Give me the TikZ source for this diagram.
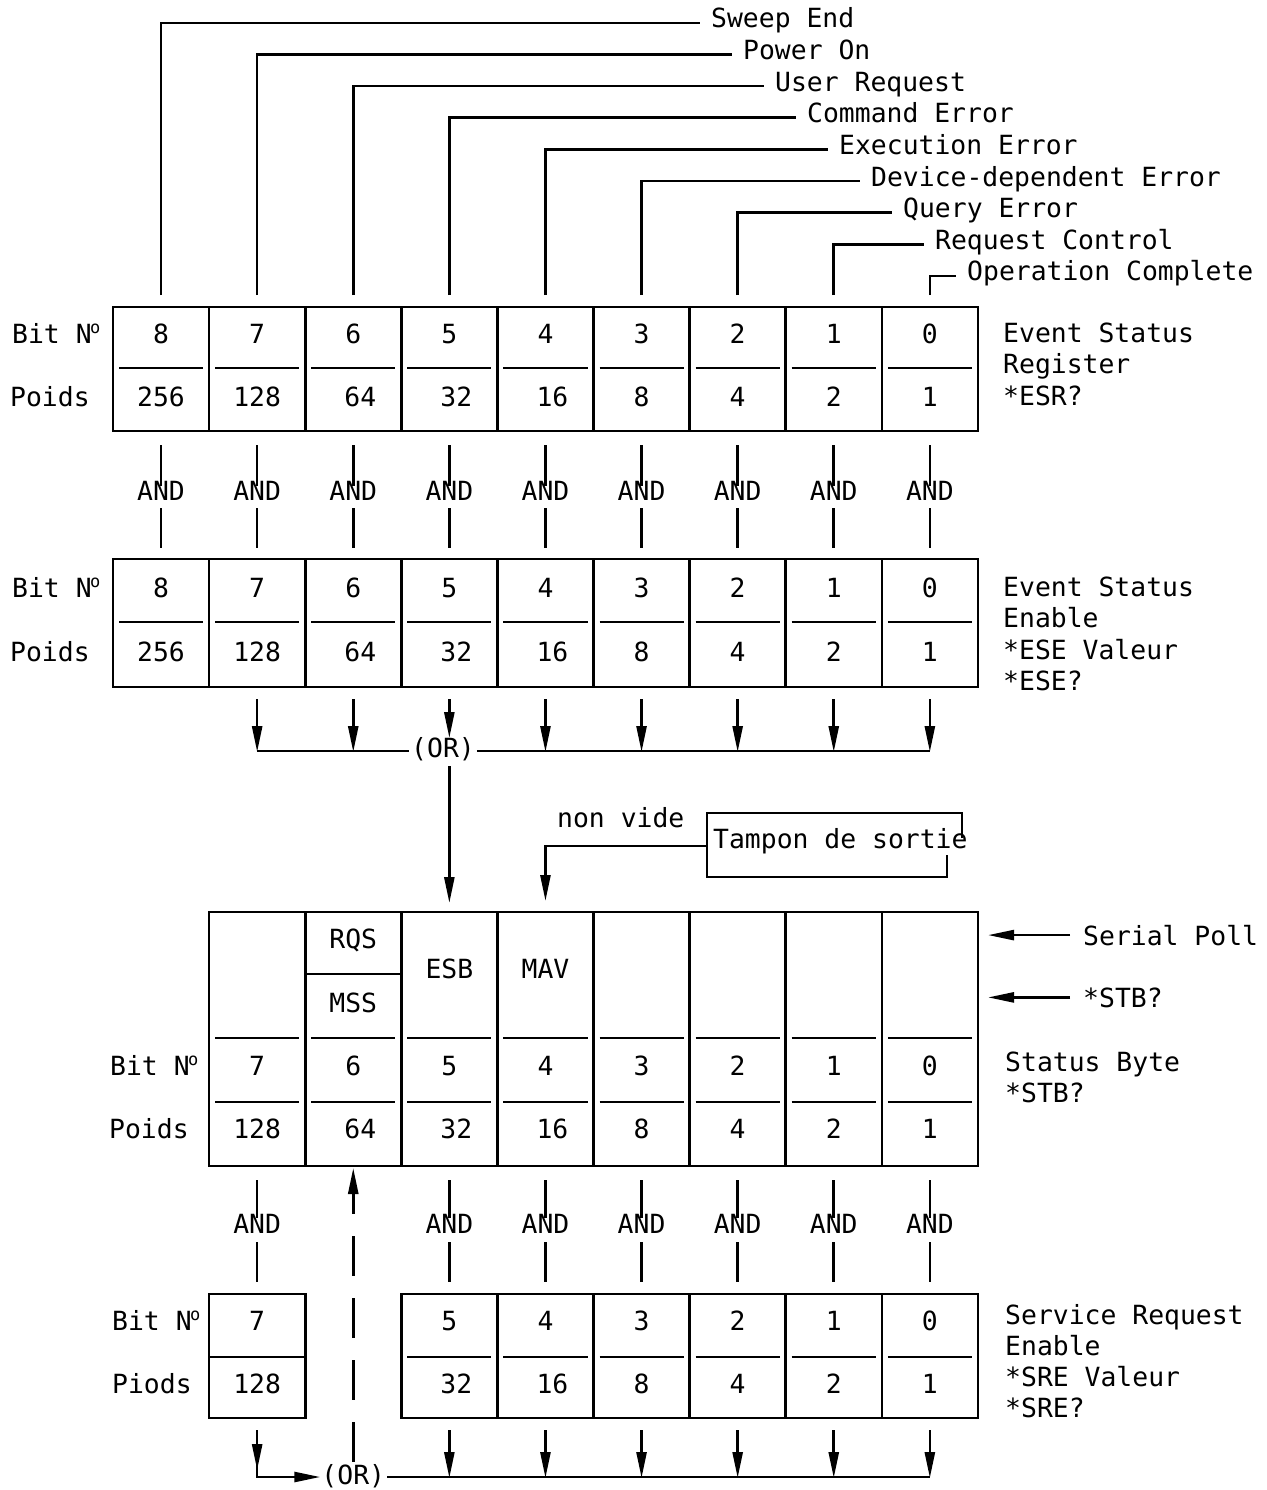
\documentclass[tikz,border=0pt]{standalone}
\usepackage{fontspec}
\setmainfont{DejaVu Sans Mono}
\usetikzlibrary{arrows.meta}
\newcommand{\regfont}{\fontsize{26.4}{31.5}\selectfont}
\newcommand{\numero}{N\kern-1.5pt\raisebox{9.5pt}{\fontsize{17}{17}\selectfont o}}
% centre of the column that holds bit #1 (same grid for every register)
\newcommand{\colx}[1]{113+96.1*(8.5-#1)}
\tikzset{
  rule/.style={line width=2.6pt},
  flow/.style={line width=2.6pt, -{Triangle[length=26pt,width=10pt]}},
  txt/.style={inner sep=0pt, anchor=base},
  lbl/.style={inner sep=0pt, anchor=base west},
}

\begin{document}
\begin{tikzpicture}[x=1pt, y=-1pt, font=\regfont]
\path[use as bounding box, fill=white] (0,0) rectangle (1266,1490);
% event names, one level per bit
\foreach \b/\t [count=\k from 0] in {8/Sweep End, 7/Power On, 6/User Request, 5/Command Error, 4/Execution Error, 3/Device-dependent Error, 2/Query Error, 1/Request Control, 0/Operation Complete} {
  \node[lbl] (ev\b) at ({711+32*\k},{28+31.6*\k}) {\t};
  \draw[rule] ({\colx{\b}},295) |- ([xshift=-11pt,yshift=5pt]ev\b.base west);
}
% Event Status Register
\draw[rule] (113,307) rectangle (978,431);
\foreach \k in {1,...,8}
  \draw[rule] ({113+96.1*\k},307) -- ({113+96.1*\k},431);
\foreach \k in {0,...,8}
  \draw[rule] ({113+96.1*\k+6},368) -- ({113+96.1*(\k+1)-6},368);
\foreach \b/\w/\dx in {8/256/0, 7/128/0, 6/64/7, 5/32/7, 4/16/7, 3/8/0, 2/4/0, 1/2/0, 0/1/0} {
  \node[txt] (esr-b\b) at ({\colx{\b}},343) {\b};
  \node[txt] (esr-w\b) at ({\colx{\b}+\dx},406) {\w};
}
\node[lbl] (esr-bit) at (12,343) {Bit \numero};
\node[lbl] (esr-poids) at (10,406) {Poids};
\foreach \t [count=\i from 0] in {Event Status, Register, *ESR?}
  \node[lbl] (esr-name\i) at (1003,{342+31.5*\i}) {\t};
% AND with the enable register
\foreach \b in {8,...,0} {
  \node[txt] (and-a\b) at ({\colx{\b}},500) {AND};
  \draw[rule] ({\colx{\b}},445) -- ([yshift=-5pt]and-a\b.north);
  \draw[rule] ([yshift=-8pt]and-a\b.south) -- ({\colx{\b}},548);
}
% Event Status Enable
\draw[rule] (113,559) rectangle (978,687);
\foreach \k in {1,...,8}
  \draw[rule] ({113+96.1*\k},559) -- ({113+96.1*\k},687);
\foreach \k in {0,...,8}
  \draw[rule] ({113+96.1*\k+6},622) -- ({113+96.1*(\k+1)-6},622);
\foreach \b/\w/\dx in {8/256/0, 7/128/0, 6/64/7, 5/32/7, 4/16/7, 3/8/0, 2/4/0, 1/2/0, 0/1/0} {
  \node[txt] (ese-b\b) at ({\colx{\b}},597) {\b};
  \node[txt] (ese-w\b) at ({\colx{\b}+\dx},661) {\w};
}
\node[lbl] (ese-bit) at (12,597) {Bit \numero};
\node[lbl] (ese-poids) at (10,661) {Poids};
\foreach \t [count=\i from 0] in {Event Status, Enable, *ESE Valeur, *ESE?}
  \node[lbl] (ese-name\i) at (1003,{596+31.5*\i}) {\t};
% OR of the enabled events -> ESB
\node[txt] (or-a) at (443,757) {(OR)};
\foreach \b in {7,6,4,3,2,1,0}
  \draw[flow] ({\colx{\b}},699) -- ({\colx{\b}},752);
\draw[flow] ({\colx{5}},699) -- ({\colx{5}},738);
\draw[rule] ({\colx{7}},751) -- ([xshift=-2pt]or-a.west |- 0,751);
\draw[rule] ([xshift=2pt]or-a.east |- 0,751) -- ({\colx{0}},751);
\draw[flow] ({\colx{5}},766) -- ({\colx{5}},903);
% output buffer -> MAV
\node[lbl] (tampon) at (713,848) {Tampon de sortie};
\draw[rule] (962,838) -- (962,813) -- (707,813) -- (707,877) -- (947,877) -- (947,855);
\draw[flow] (707,846) -| ({\colx{4}},901);
\node[lbl] (nonvide) at (557,827) {non vide};
% Status Byte
\draw[rule] (209.1,912) rectangle (978,1166);
\foreach \k in {2,...,8}
  \draw[rule] ({113+96.1*\k},912) -- ({113+96.1*\k},1166);
\foreach \k in {1,...,8} {
  \draw[rule] ({113+96.1*\k+6},1038) -- ({113+96.1*(\k+1)-6},1038);
  \draw[rule] ({113+96.1*\k+6},1102) -- ({113+96.1*(\k+1)-6},1102);
}
\draw[rule] (305.2,974) -- (401.3,974);
\node[txt] (rqs) at ({\colx{6}},948) {RQS};
\node[txt] (mss) at ({\colx{6}},1012) {MSS};
\node[txt] (esb) at ({\colx{5}},978) {ESB};
\node[txt] (mav) at ({\colx{4}},978) {MAV};
\foreach \b/\w/\dx in {7/128/0, 6/64/7, 5/32/7, 4/16/7, 3/8/0, 2/4/0, 1/2/0, 0/1/0} {
  \node[txt] (stb-b\b) at ({\colx{\b}},1075) {\b};
  \node[txt] (stb-w\b) at ({\colx{\b}+\dx},1138) {\w};
}
\node[lbl] (stb-bit) at (110,1075) {Bit \numero};
\node[lbl] (stb-poids) at (109,1138) {Poids};
\node[lbl] (poll) at (1083,945) {Serial Poll};
\node[lbl] (stbq) at (1083,1007) {*STB?};
\draw[flow] ([xshift=-13pt]poll.west) -- ++(-82,0);
\draw[flow] ([xshift=-13pt]stbq.west) -- ++(-82,0);
\node[lbl] (stb-name0) at (1005,1071) {Status Byte};
\node[lbl] (stb-name1) at (1005,1102) {*STB?};
% AND with the service request enable register
\foreach \b in {7,5,4,3,2,1,0} {
  \node[txt] (and-b\b) at ({\colx{\b}},1233) {AND};
  \draw[rule] ({\colx{\b}},1180) -- ([yshift=-4pt]and-b\b.north);
  \draw[rule] ([yshift=-9pt]and-b\b.south) -- ({\colx{\b}},1282);
}
% Service Request Enable
\draw[rule] (209.1,1294) rectangle (305.2,1418);
\draw[rule] (209.1,1357) -- (305.2,1357);
\draw[rule] (401.3,1294) rectangle (978,1418);
\foreach \k in {4,...,8}
  \draw[rule] ({113+96.1*\k},1294) -- ({113+96.1*\k},1418);
\foreach \k in {3,...,8}
  \draw[rule] ({113+96.1*\k+6},1357) -- ({113+96.1*(\k+1)-6},1357);
\foreach \b/\w/\dx in {7/128/0, 5/32/7, 4/16/7, 3/8/0, 2/4/0, 1/2/0, 0/1/0} {
  \node[txt] (sre-b\b) at ({\colx{\b}},1330) {\b};
  \node[txt] (sre-w\b) at ({\colx{\b}+\dx},1393) {\w};
}
\node[lbl] (sre-bit) at (112,1330) {Bit \numero};
\node[lbl] (sre-poids) at (112,1393) {Piods};
\foreach \t [count=\i from 0] in {Service Request, Enable, *SRE Valeur, *SRE?}
  \node[lbl] (sre-name\i) at (1005,{1324+31*\i}) {\t};
% OR of the enabled bits -> RQS/MSS
\node[txt] (or-b) at ({\colx{6}},1484) {(OR)};
\draw[flow] ({\colx{7}},1430) -- ({\colx{7}},1470);
\draw[flow] ({\colx{7}},1462) |- ([xshift=-1pt]or-b.west |- 0,1477);
\foreach \b in {5,...,0}
  \draw[flow] ({\colx{\b}},1430) -- ({\colx{\b}},1478);
\draw[rule] ([xshift=2pt]or-b.east |- 0,1477) -- ({\colx{0}},1477);
\draw[rule, dash pattern=on 40pt off 22pt, -{Triangle[length=26pt,width=10pt]}] ([yshift=2pt]or-b.north) -- ({\colx{6}},1168);
\end{tikzpicture}
\end{document}
